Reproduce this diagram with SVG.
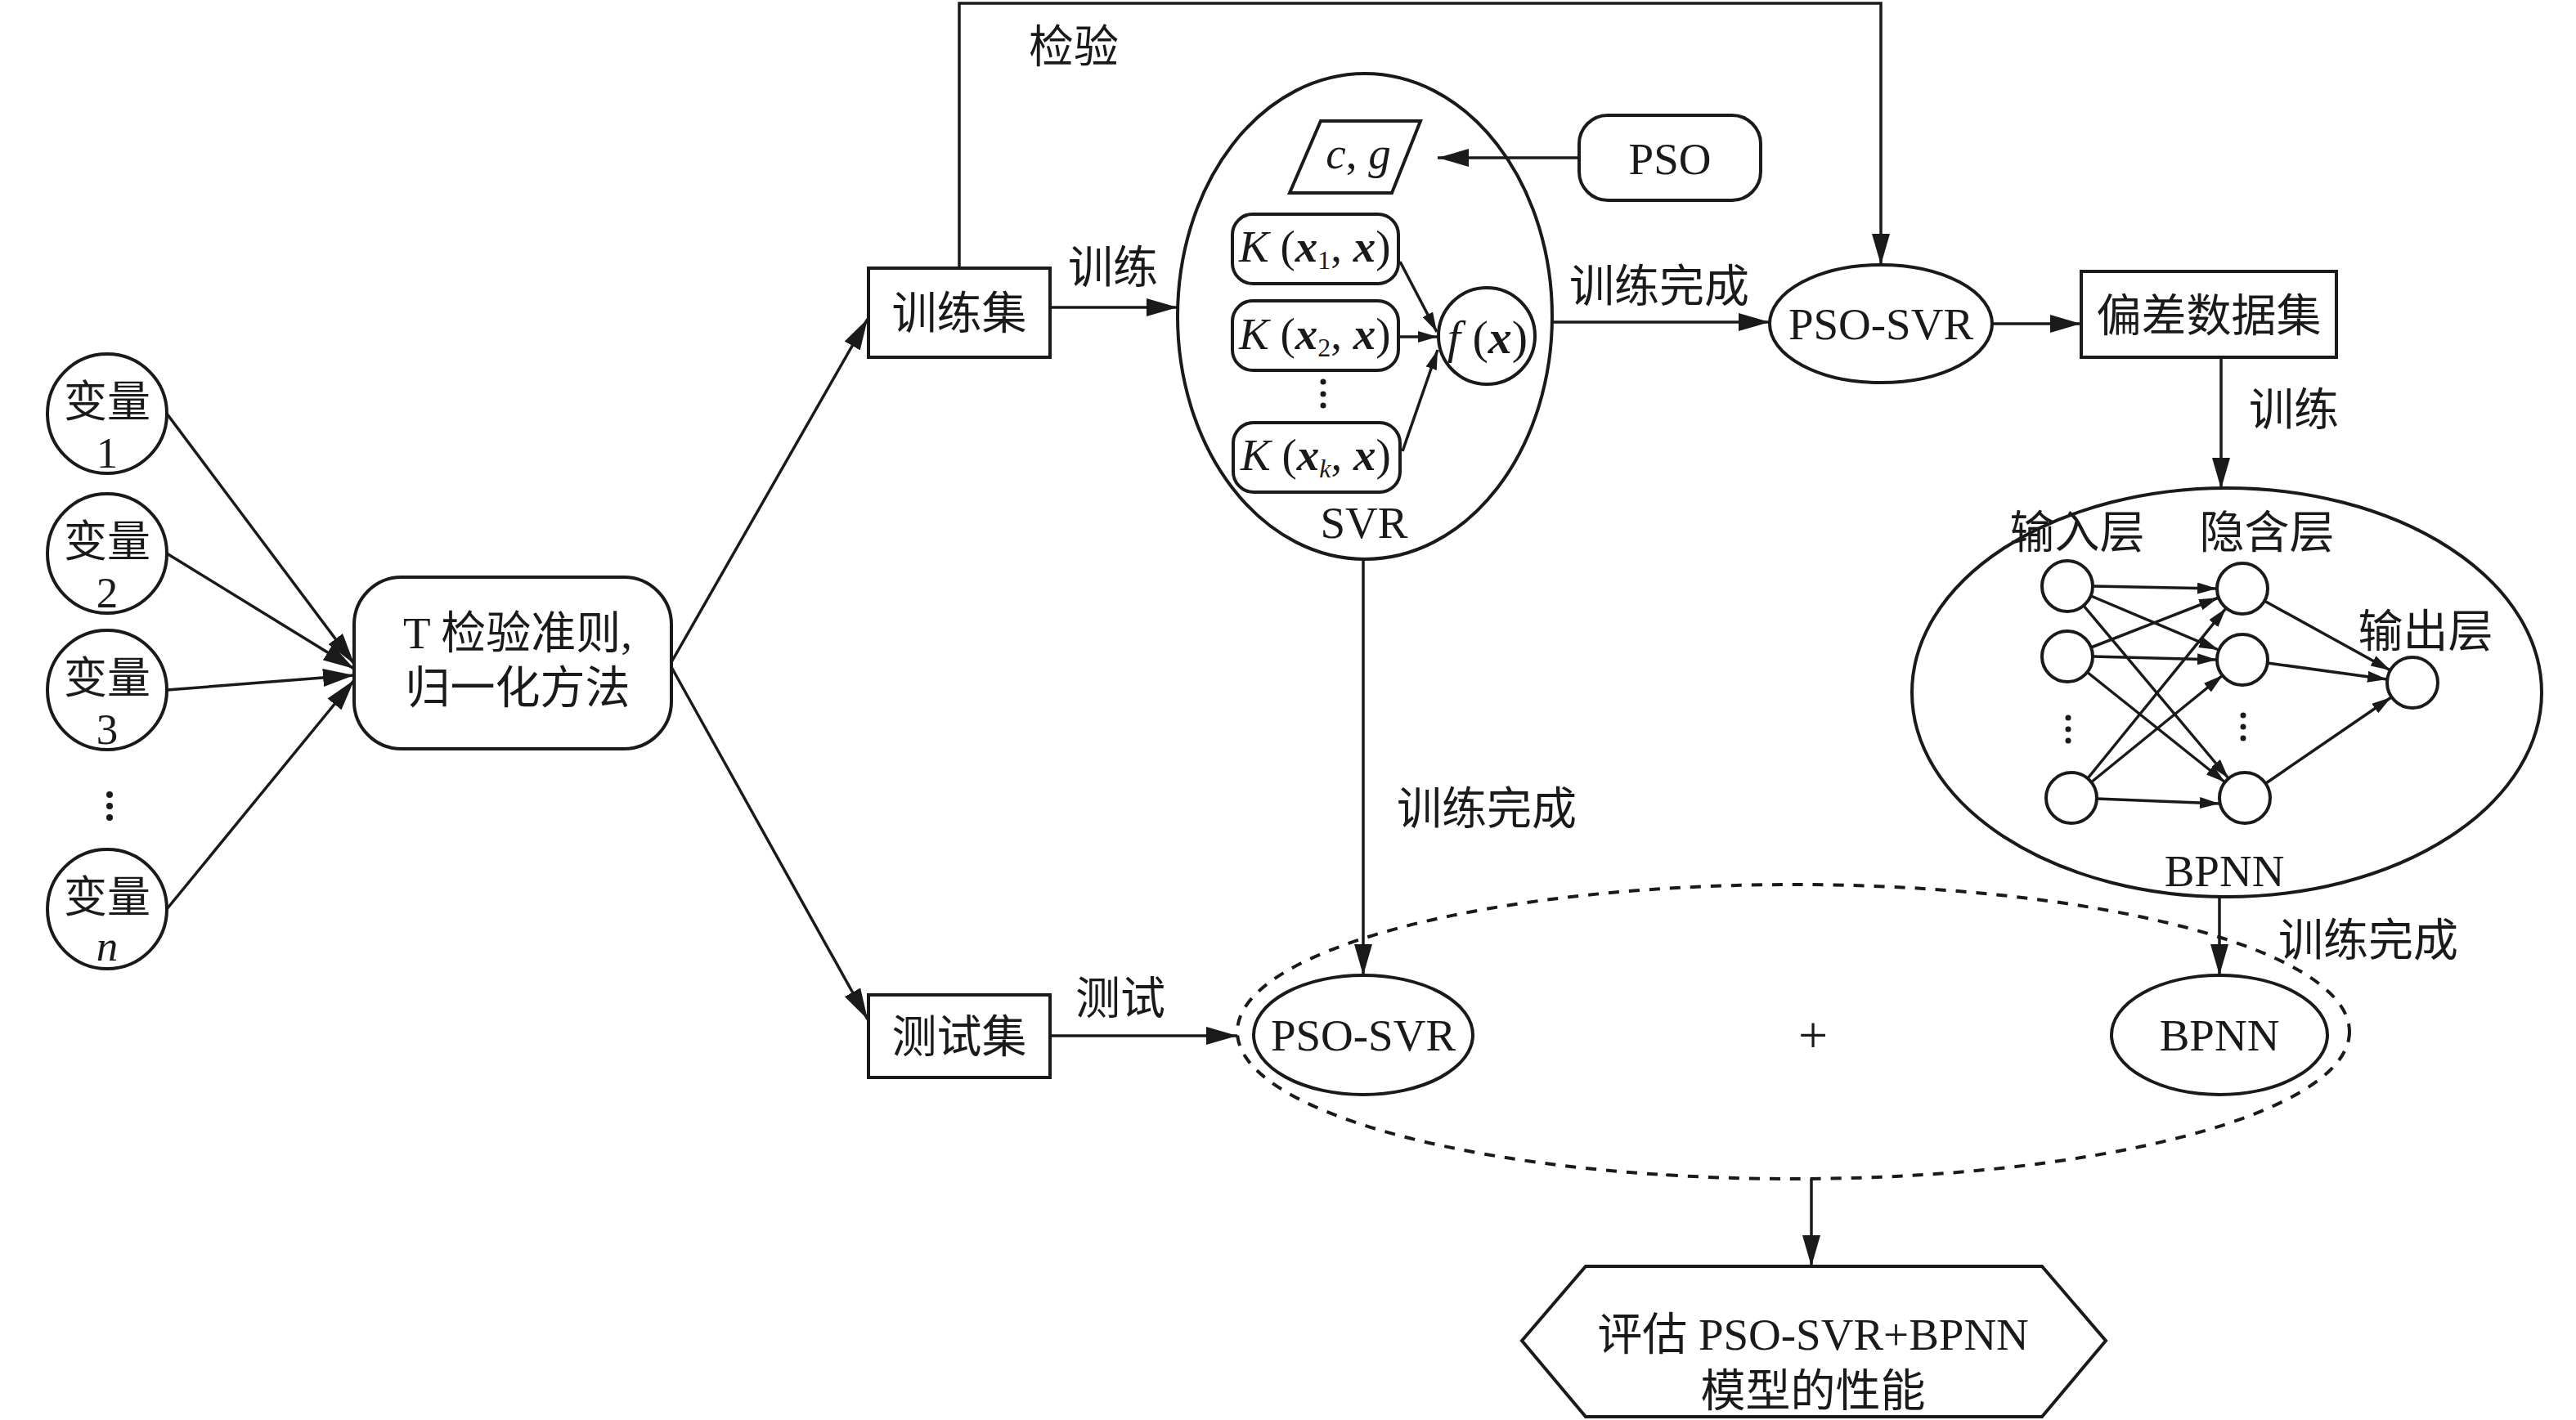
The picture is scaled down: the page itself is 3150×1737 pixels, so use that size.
<svg xmlns="http://www.w3.org/2000/svg" width="3150" height="1737" viewBox="0 0 3150 1737">
<style>
.s{fill:none;stroke:#1a1a1a;stroke-width:4}
.c{fill:none;stroke:#1a1a1a;stroke-width:3.5}
.d{fill:none;stroke:#1a1a1a;stroke-width:4;stroke-dasharray:13 12}
.t{font-family:"Liberation Serif","Noto Sans CJK SC",serif;font-size:55px;fill:#1a1a1a;text-anchor:middle}
.v{font-size:53px}
.m{font-family:"Liberation Serif","Noto Sans CJK SC",serif;font-size:55px;fill:#1a1a1a}
.i{font-style:italic}
.b{font-style:italic;font-weight:bold}
</style>
<defs>
<marker id="a" markerUnits="userSpaceOnUse" markerWidth="40" markerHeight="22" refX="38" refY="11" orient="auto"><path d="M0,0 L38,11 L0,22 z" fill="#1a1a1a"/></marker>
<marker id="sa" markerUnits="userSpaceOnUse" markerWidth="26" markerHeight="14" refX="24" refY="7" orient="auto"><path d="M0,0 L24,7 L0,14 z" fill="#1a1a1a"/></marker>
</defs>
<rect width="3150" height="1737" fill="#fff"/>

<g id="connectors">
<line class="c" x1="204" y1="506" x2="433" y2="812" marker-end="url(#a)"/>
<line class="c" x1="204" y1="677" x2="433" y2="818" marker-end="url(#a)"/>
<line class="c" x1="204" y1="844" x2="433" y2="826" marker-end="url(#a)"/>
<line class="c" x1="204" y1="1112" x2="433" y2="832" marker-end="url(#a)"/>
<line class="c" x1="821" y1="810" x2="1061" y2="390" marker-end="url(#a)"/>
<line class="c" x1="821" y1="816" x2="1061" y2="1247" marker-end="url(#a)"/>
<line class="c" x1="1284" y1="376" x2="1440" y2="376" marker-end="url(#a)"/>
<path class="c" d="M1173,326 V4 H2300 V324" marker-end="url(#a)"/>
<line class="c" x1="1931" y1="193" x2="1758" y2="193" marker-end="url(#a)"/>
<line class="c" x1="1712" y1="320" x2="1757" y2="406" marker-end="url(#sa)"/>
<line class="c" x1="1712" y1="412" x2="1758" y2="412" marker-end="url(#sa)"/>
<line class="c" x1="1715" y1="552" x2="1758" y2="428" marker-end="url(#sa)"/>
<line class="c" x1="1898" y1="394" x2="2164" y2="394" marker-end="url(#a)"/>
<line class="c" x1="2436" y1="396" x2="2545" y2="396" marker-end="url(#a)"/>
<line class="c" x1="2716" y1="437" x2="2716" y2="598" marker-end="url(#a)"/>
<line class="c" x1="1667" y1="684" x2="1667" y2="1193" marker-end="url(#a)"/>
<line class="c" x1="2714" y1="1097" x2="2714" y2="1193" marker-end="url(#a)"/>
<line class="c" x1="1284" y1="1267" x2="1513" y2="1267" marker-end="url(#a)"/>
<line class="c" x1="2215" y1="1442" x2="2215" y2="1549" marker-end="url(#a)"/>
<!-- BPNN internal -->
<line class="c" x1="2559" y1="717" x2="2711" y2="720" marker-end="url(#sa)"/>
<line class="c" x1="2557" y1="729" x2="2713" y2="795" marker-end="url(#sa)"/>
<line class="c" x1="2548" y1="741" x2="2725" y2="952" marker-end="url(#sa)"/>
<line class="c" x1="2557" y1="792" x2="2713" y2="731" marker-end="url(#sa)"/>
<line class="c" x1="2559" y1="803" x2="2711" y2="807" marker-end="url(#sa)"/>
<line class="c" x1="2552" y1="822" x2="2721" y2="957" marker-end="url(#sa)"/>
<line class="c" x1="2553" y1="952" x2="2722" y2="744" marker-end="url(#sa)"/>
<line class="c" x1="2557" y1="957" x2="2718" y2="826" marker-end="url(#sa)"/>
<line class="c" x1="2564" y1="977" x2="2714" y2="983" marker-end="url(#sa)"/>
<line class="c" x1="2769" y1="735" x2="2923" y2="820" marker-end="url(#sa)"/>
<line class="c" x1="2773" y1="811" x2="2919" y2="831" marker-end="url(#sa)"/>
<line class="c" x1="2771" y1="958" x2="2924" y2="853" marker-end="url(#sa)"/>
</g>

<g id="labels">
<text class="t" x="1313" y="76">检验</text>
<text class="t" x="1361" y="346">训练</text>
<text class="t" x="2029" y="369">训练完成</text>
<text class="t" x="2805" y="520">训练</text>
<text class="t" x="1818" y="1008">训练完成</text>
<text class="t" x="2896" y="1169">训练完成</text>
<text class="t" x="1370" y="1240">测试</text>
</g>

<g id="var1"><circle class="s" cx="131" cy="506" r="73"/><text class="t v" x="131" y="510">变量</text><text class="t v" x="131" y="572">1</text></g>
<g id="var2"><circle class="s" cx="131" cy="677" r="73"/><text class="t v" x="131" y="681">变量</text><text class="t v" x="131" y="743">2</text></g>
<g id="var3"><circle class="s" cx="131" cy="844" r="73"/><text class="t v" x="131" y="848">变量</text><text class="t v" x="131" y="910">3</text></g>
<g id="vardots" fill="#1a1a1a"><circle cx="134" cy="972" r="4"/><circle cx="134" cy="986" r="4"/><circle cx="134" cy="1000" r="4"/></g>
<g id="varn"><circle class="s" cx="131" cy="1112" r="73"/><text class="t v" x="131" y="1116">变量</text><text class="t v i" x="131" y="1175">n</text></g>

<g id="tbox"><rect class="s" x="433" y="706" width="388" height="210" rx="58"/><text class="t" x="633" y="793">T 检验准则,</text><text class="t" x="633" y="860">归一化方法</text></g>

<g id="trainset"><rect class="s" x="1062" y="328" width="222" height="109"/><text class="t" x="1173" y="402">训练集</text></g>
<g id="testset"><rect class="s" x="1062" y="1217" width="222" height="101"/><text class="t" x="1173" y="1287">测试集</text></g>

<g id="svr"><ellipse class="s" cx="1669" cy="387" rx="229" ry="297"/><text class="t" x="1668" y="658">SVR</text></g>
<g id="cg"><polygon class="s" points="1615,148 1737,148 1702,236 1577,236"/><text class="t" x="1661" y="206"><tspan class="i">c</tspan>, <tspan class="i">g</tspan></text></g>
<g id="pso"><rect class="s" x="1931" y="141" width="222" height="104" rx="35"/><text class="t" x="2042" y="213">PSO</text></g>
<g id="k1"><rect class="s" x="1507" y="262" width="203" height="85" rx="25"/><text class="m" x="1515" y="320"><tspan class="i">K</tspan> (<tspan class="b">x</tspan><tspan font-size="32" dy="9">1</tspan><tspan dy="-9">, </tspan><tspan class="b">x</tspan>)</text></g>
<g id="k2"><rect class="s" x="1507" y="368" width="203" height="85" rx="25"/><text class="m" x="1515" y="427"><tspan class="i">K</tspan> (<tspan class="b">x</tspan><tspan font-size="32" dy="9">2</tspan><tspan dy="-9">, </tspan><tspan class="b">x</tspan>)</text></g>
<g id="kdots" fill="#1a1a1a"><circle cx="1618" cy="467" r="3.5"/><circle cx="1618" cy="482" r="3.5"/><circle cx="1618" cy="496" r="3.5"/></g>
<g id="kk"><rect class="s" x="1508" y="517" width="204" height="85" rx="25"/><text class="m" x="1517" y="575"><tspan class="i">K</tspan> (<tspan class="b">x</tspan><tspan class="i" font-size="32" dy="9">k</tspan><tspan dy="-9">, </tspan><tspan class="b">x</tspan>)</text></g>
<g id="fx"><circle class="s" cx="1818" cy="411" r="59"/><text class="t" x="1819" y="432" style="font-size:58px"><tspan class="i">f</tspan> (<tspan class="b">x</tspan>)</text></g>

<g id="psosvr1"><ellipse class="s" cx="2300" cy="396" rx="136" ry="72"/><text class="t" x="2300" y="415">PSO-SVR</text></g>
<g id="devset"><rect class="s" x="2545" y="332" width="312" height="105"/><text class="t" x="2701" y="405">偏差数据集</text></g>

<g id="bpnn">
<ellipse class="s" cx="2723" cy="847" rx="385" ry="250"/>
<text class="t" x="2540" y="670">输入层</text>
<text class="t" x="2772" y="670">隐含层</text>
<text class="t" x="2966" y="791">输出层</text>
<text class="t" x="2720" y="1084">BPNN</text>
<circle class="s" cx="2528" cy="717" r="31"/><circle class="s" cx="2528" cy="803" r="31"/><circle class="s" cx="2533" cy="976" r="31"/>
<circle class="s" cx="2742" cy="720" r="31"/><circle class="s" cx="2742" cy="807" r="31"/><circle class="s" cx="2745" cy="976" r="31"/>
<circle class="s" cx="2950" cy="835" r="31"/>
<g fill="#1a1a1a"><circle cx="2529" cy="878" r="3.5"/><circle cx="2529" cy="892" r="3.5"/><circle cx="2529" cy="906" r="3.5"/><circle cx="2743" cy="875" r="3.5"/><circle cx="2743" cy="889" r="3.5"/><circle cx="2743" cy="903" r="3.5"/></g>
</g>

<g id="ensemble">
<ellipse class="d" cx="2193" cy="1262" rx="680" ry="180"/>
<text x="2217" y="1288" style="font-family:'Liberation Serif',serif;font-size:64px;fill:#1a1a1a;text-anchor:middle">+</text>
</g>
<g id="psosvr2"><ellipse class="s" cx="1667" cy="1266" rx="134" ry="73"/><text class="t" x="1667" y="1285">PSO-SVR</text></g>
<g id="bpnn2"><ellipse class="s" cx="2714" cy="1266" rx="132" ry="73"/><text class="t" x="2714" y="1285">BPNN</text></g>

<g id="evaluate"><polygon class="s" points="1861,1640 1939,1549 2497,1549 2575,1640 2497,1733 1939,1733"/><text class="t" x="2217" y="1651">评估 PSO-SVR+BPNN</text><text class="t" x="2217" y="1720">模型的性能</text></g>
</svg>
